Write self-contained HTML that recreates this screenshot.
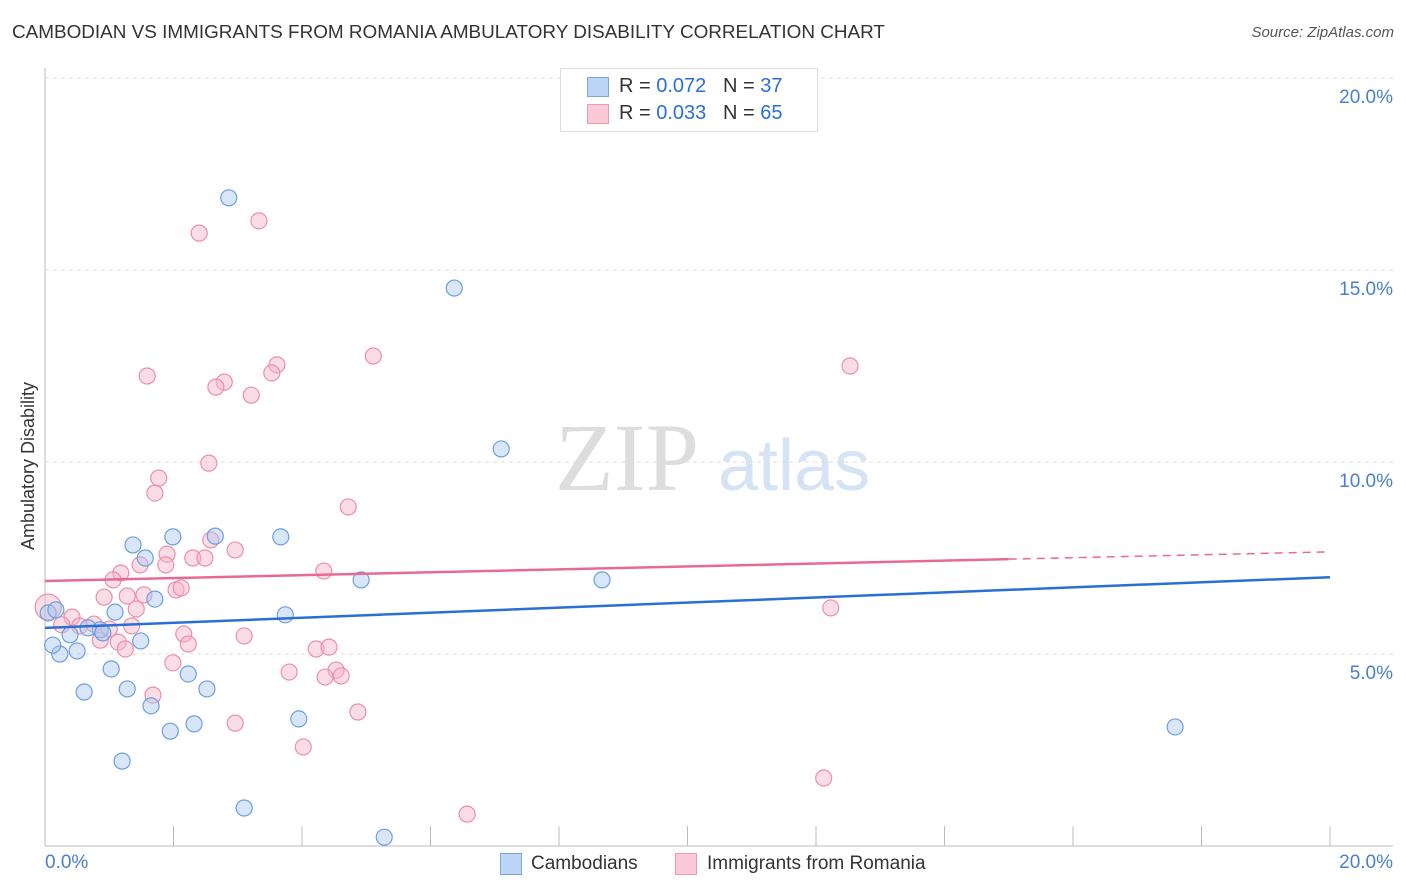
<!DOCTYPE html>
<html><head><meta charset="utf-8"><style>
body{margin:0;background:#fff;font-family:"Liberation Sans",sans-serif;}
#wrap{position:relative;width:1406px;height:892px;overflow:hidden;}
.t{position:absolute;white-space:nowrap;}
</style></head><body>
<div id="wrap">
<div class="t" style="left:12px;top:22px;font-size:18.9px;color:#333;">CAMBODIAN VS IMMIGRANTS FROM ROMANIA AMBULATORY DISABILITY CORRELATION CHART</div>
<div class="t" style="right:12px;top:24px;font-size:15px;color:#555;font-style:italic;">Source: ZipAtlas.com</div>
<svg id="svg" width="1406" height="892" style="position:absolute;left:0;top:0"></svg>
</div>
<script>
const blueX=[2.86,6.37,7.10,8.67,17.59,4.92,3.67,2.65,1.99,1.37,1.56,1.71,1.09,1.49,3.74,0.86,0.67,0.50,0.23,0.12,0.05,1.03,0.61,1.28,2.23,2.52,1.65,1.95,2.32,3.95,1.20,3.10,5.28,0.90,0.39,0.17];
const blueY=[16.88,14.53,10.34,6.93,3.10,6.93,8.05,8.07,8.05,7.84,7.50,6.43,6.09,5.34,6.02,5.63,5.68,5.08,5.00,5.23,6.07,4.61,4.01,4.09,4.48,4.09,3.65,2.99,3.18,3.31,2.21,0.99,0.23,5.55,5.50,6.15];
const pinkX=[2.40,3.33,5.11,3.61,3.53,2.79,2.66,3.21,1.59,12.53,2.55,1.77,1.71,4.72,2.58,2.96,1.90,2.30,2.49,1.48,1.88,1.18,1.06,4.34,2.04,2.12,1.28,0.92,1.54,1.42,12.23,0.05,0.42,0.26,0.54,0.76,1.00,1.35,2.16,3.10,0.86,1.14,1.25,2.23,4.22,4.42,1.99,3.80,4.53,4.36,4.61,1.68,4.87,2.96,4.02,12.12,6.57];
const pinkY=[15.96,16.28,12.76,12.53,12.32,12.08,11.95,11.74,12.24,12.50,9.97,9.58,9.19,8.83,7.97,7.71,7.60,7.50,7.50,7.32,7.32,7.11,6.93,7.16,6.67,6.72,6.51,6.48,6.54,6.17,6.20,6.22,5.96,5.76,5.73,5.78,5.65,5.73,5.52,5.47,5.36,5.31,5.13,5.26,5.13,5.18,4.77,4.53,4.58,4.40,4.43,3.93,3.49,3.20,2.58,1.77,0.83];
const blueTrend=[5.68,7.0];
const pinkTrend=[6.9,7.66];
const yTicks=[5,10,15,20];
const yTickLabels=["5.0%","10.0%","15.0%","20.0%"];
const NS="http://www.w3.org/2000/svg";
const svg=document.getElementById('svg');
const X=v=>45+v*64.25, Y=v=>846-v*38.4;
function mk(t,a){const e=document.createElementNS(NS,t);for(const k in a)e.setAttribute(k,a[k]);svg.appendChild(e);return e;}
let w=mk('text',{x:555,y:490,'font-size':96,fill:'#ddd','font-family':'Liberation Serif'});w.textContent='ZIP';


let w2=mk('text',{x:718,y:490,'font-size':72,fill:'#d6e3f5','font-family':'Liberation Sans'});w2.textContent='atlas';


yTicks.forEach((v,i)=>{
 let g=mk('line',{x1:45,x2:1393,y1:Y(v),y2:Y(v),stroke:'#ddd','stroke-dasharray':'4,4'});
 
 
 let t=mk('text',{x:1393,y:Y(v)+25,'text-anchor':'end','font-size':19,fill:'#4a7fd0'});t.textContent=yTickLabels[i];
 
 
});
let ax=mk('line',{x1:45,x2:45,y1:68,y2:846,stroke:'#bbb'});


let bx=mk('line',{x1:45,x2:1393,y1:846,y2:846,stroke:'#bbb'});


for(let i=0;i<=10;i++){let tk=mk('line',{x1:X(i*2),x2:X(i*2),y1:826,y2:846,stroke:'#bbb'});
 
 }
function dots(xs,ys,fill,stroke,name,bigIdx){xs.forEach((x,i)=>{let c=mk('circle',{cx:X(x),cy:Y(ys[i]),r:(i===bigIdx?13:8),fill:fill,stroke:stroke,'stroke-width':1.2});
 
 });}
dots(pinkX,pinkY,'rgba(248,180,200,0.45)','#ec8fac','point-romania',31);
dots(blueX,blueY,'rgba(170,200,240,0.45)','#6c9fe0','point-cambodian',-1);
let bl=mk('line',{x1:X(0),y1:Y(blueTrend[0]),x2:X(20),y2:Y(blueTrend[1]),stroke:'#2a6fd6','stroke-width':2.5});


const pm=pinkTrend[0]+(pinkTrend[1]-pinkTrend[0])*0.75;
let pl=mk('line',{x1:X(0),y1:Y(pinkTrend[0]),x2:X(15),y2:Y(pm),stroke:'#e86a94','stroke-width':2.5});


let pd=mk('line',{x1:X(15),y1:Y(pm),x2:X(20),y2:Y(pinkTrend[1]),stroke:'#e86a94','stroke-width':1.5,'stroke-dasharray':'8,6'});


</script>
<div class="t" style="left:18px;top:550px;transform:rotate(-90deg);transform-origin:0 0;font-size:18px;color:#333;">Ambulatory Disability</div>
<div class="t" style="left:45px;top:852px;font-size:19px;color:#4a7fd0;">0.0%</div>
<div class="t" style="right:13px;top:852px;font-size:19px;color:#4a7fd0;">20.0%</div>
<div style="position:absolute;left:560px;top:68px;width:256px;height:62px;border:1px solid #ddd;background:#fff;font-size:20px;color:#333;">
 <div style="position:absolute;left:26px;top:8px;width:20px;height:18px;background:#bcd4f5;border:1px solid #7aa6e3;"></div>
 <div class="t" style="left:58px;top:6px;">R = <span style="color:#2a6fd6">0.072</span>&nbsp;&nbsp;&nbsp;N = <span style="color:#2a6fd6">37</span></div>
 <div style="position:absolute;left:26px;top:35px;width:20px;height:18px;background:#fbc9d7;border:1px solid #ee9ab3;"></div>
 <div class="t" style="left:58px;top:33px;">R = <span style="color:#2a6fd6">0.033</span>&nbsp;&nbsp;&nbsp;N = <span style="color:#2a6fd6">65</span></div>
</div>
<div style="position:absolute;left:500px;top:853px;width:20px;height:20px;background:#bcd4f5;border:1px solid #7aa6e3;"></div>
<div class="t" style="left:531px;top:853px;font-size:19px;color:#333;">Cambodians</div>
<div style="position:absolute;left:675px;top:853px;width:20px;height:20px;background:#fbc9d7;border:1px solid #ee9ab3;"></div>
<div class="t" style="left:707px;top:853px;font-size:19px;color:#333;">Immigrants from Romania</div>
</body></html>
